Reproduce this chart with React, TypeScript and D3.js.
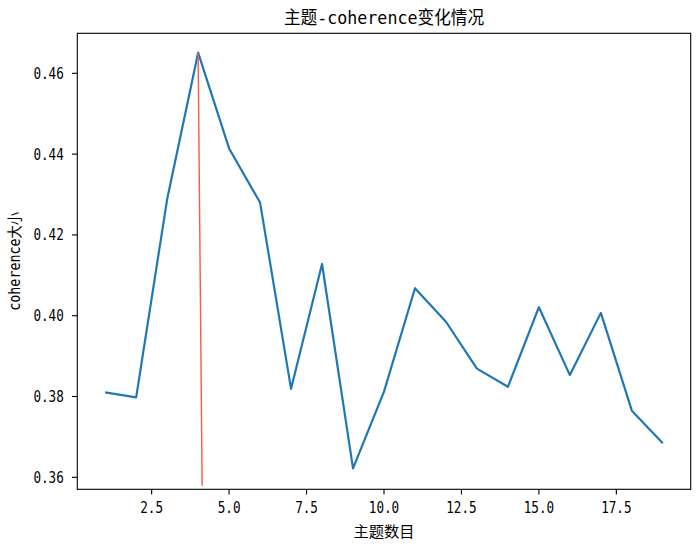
import React from "react";
import * as d3 from "d3";

const topicCounts = [1, 2, 3, 4, 5, 6, 7, 8, 9, 10, 11, 12, 13, 14, 15, 16, 17, 18, 19];
const coherenceValues = [
  0.3810, 0.3798, 0.4288, 0.4651, 0.4414, 0.4280, 0.3819, 0.4128, 0.3622, 0.3812,
  0.4068, 0.3985, 0.3869, 0.3824, 0.4021, 0.3853, 0.4007, 0.3765, 0.3684,
];
const markerX = [4, 4.13];
const markerY = [0.4651, 0.3579];
const xTicks = [2.5, 5.0, 7.5, 10.0, 12.5, 15.0, 17.5];
const yTicks = [0.36, 0.38, 0.40, 0.42, 0.44, 0.46];
const titleText = "主题-coherence变化情况";
const xLabelText = "主题数目";
const yLabelText = "coherence大小";

const W = 700;
const H = 546;
const M = { left: 77.3, right: 690.7, top: 33.3, bottom: 489.3 };
const FONT = "'DejaVu Sans Mono', 'Noto Sans CJK SC', sans-serif";

function hwWidth(s: string, fs: number) {
  let w = 0;
  for (const ch of s) w += ch.charCodeAt(0) > 255 ? fs : fs * 0.5;
  return w;
}

function Txt(props: any) {
  const { text, fs, ...rest } = props;
  return (
    <text
      {...rest}
      fontSize={fs}
      fontFamily={FONT}
      textLength={hwWidth(text, fs)}
      lengthAdjust="spacingAndGlyphs"
      fill="#000"
    >
      {text}
    </text>
  );
}

export default function App() {
  const x = d3.scaleLinear().domain([0.1, 19.9]).range([M.left, M.right]);
  const y = d3.scaleLinear().domain([0.35703, 0.4699]).range([M.bottom, M.top]);
  const pts = topicCounts.map((t, i) => [t, coherenceValues[i]] as [number, number]);
  const line = d3.line<[number, number]>().x((d) => x(d[0])).y((d) => y(d[1]));
  const redPts = markerX.map((t, i) => [t, markerY[i]] as [number, number]);
  const fs = 15.2;
  const tickLen = 5.3;
  const fmtX = d3.format(".1f");
  const fmtY = d3.format(".2f");

  return (
    <svg
      width={W}
      height={H}
      style={{ position: "absolute", left: 0, top: 0, background: "#fff" }}
    >
      <rect x={0} y={0} width={W} height={H} fill="#fff" />
      <path d={line(pts) || ""} fill="none" stroke="#1f77b4" strokeWidth={2.2} strokeLinejoin="round" />
      <path d={line(redPts) || ""} fill="none" stroke="#fa5a48" strokeWidth={1.4} />
      <rect
        x={M.left}
        y={M.top}
        width={M.right - M.left}
        height={M.bottom - M.top}
        fill="none"
        stroke="#000"
        strokeWidth={1.1}
      />
      {xTicks.map((t) => (
        <g key={"x" + t}>
          <line x1={x(t)} x2={x(t)} y1={M.bottom} y2={M.bottom + tickLen} stroke="#000" strokeWidth={1.1} />
          <Txt
            text={fmtX(t)}
            fs={fs}
            x={x(t)}
            y={M.bottom + 24}
            textAnchor="middle"
          />
        </g>
      ))}
      {yTicks.map((t) => (
        <g key={"y" + t}>
          <line x1={M.left - tickLen} x2={M.left} y1={y(t)} y2={y(t)} stroke="#000" strokeWidth={1.1} />
          <Txt
            text={fmtY(t)}
            fs={fs}
            x={M.left - 13.5}
            y={y(t) + 5.5}
            textAnchor="end"
          />
        </g>
      ))}
      <Txt text={titleText} fs={18.2} x={(M.left + M.right) / 2} y={24} textAnchor="middle" />
      <Txt text={xLabelText} fs={fs} x={(M.left + M.right) / 2} y={537} textAnchor="middle" />
      <Txt
        text={yLabelText}
        fs={fs}
        x={0}
        y={0}
        textAnchor="middle"
        transform={`translate(20, ${(M.top + M.bottom) / 2}) rotate(-90)`}
      />
    </svg>
  );
}
